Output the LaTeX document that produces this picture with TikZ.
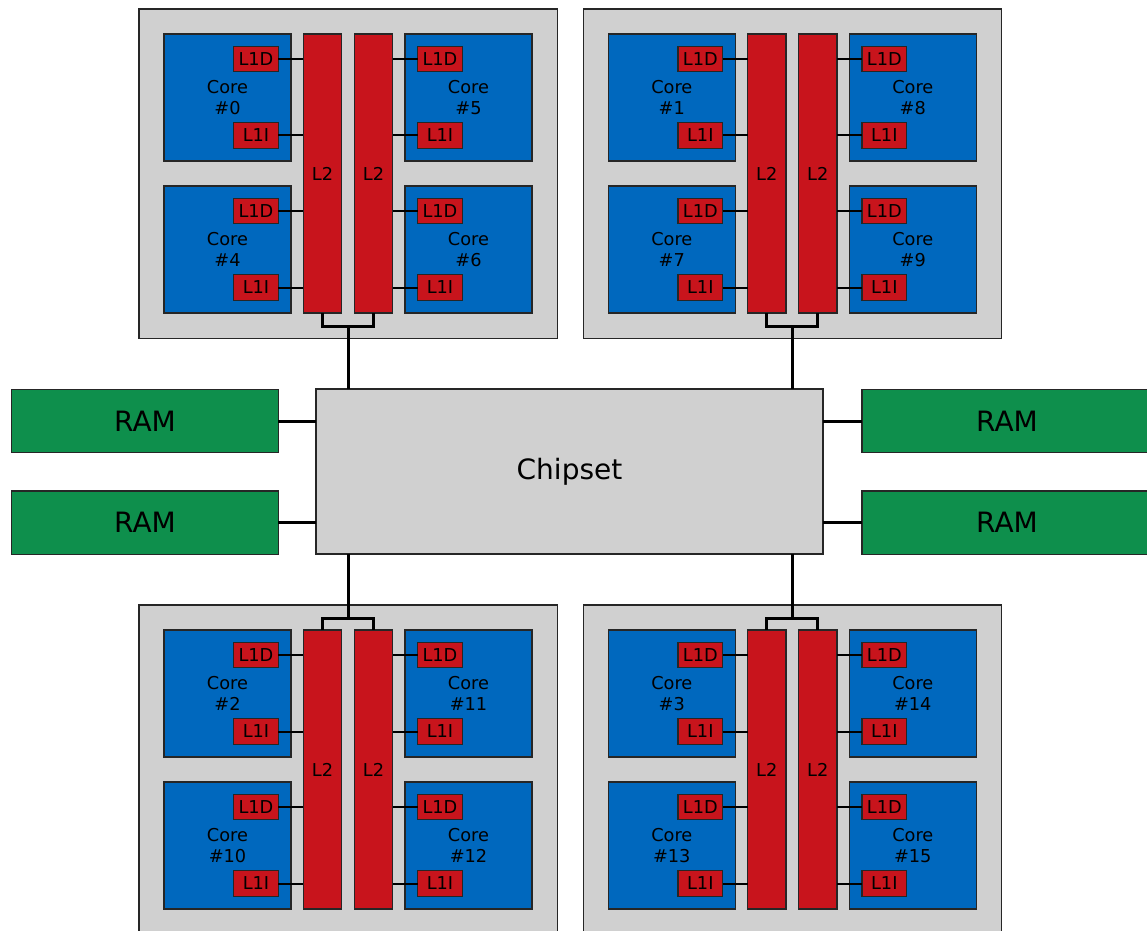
\documentclass[tikz,border=0pt]{standalone}
\usepackage{fontspec}
\setmainfont{DejaVu Sans}
\definecolor{pkggray}{RGB}{208,208,208}
\definecolor{coreblue}{RGB}{0,104,190}
\definecolor{cachered}{RGB}{200,20,28}
\definecolor{ramgreen}{RGB}{14,143,76}
\tikzset{
  box/.style={draw=black!85, line width=0.8pt, inner sep=0pt, outer sep=0pt},
  pkgbox/.style={box, fill=pkggray, minimum width=313.875pt, minimum height=247.125pt},
  corebox/.style={box, fill=coreblue, minimum width=95.25pt, minimum height=95.25pt, align=center,
    font=\fontsize{13.3}{16.3}\selectfont},
  l1box/.style={box, fill=cachered, minimum width=33.45pt, minimum height=18.975pt,
    font=\fontsize{13.3}{15}\selectfont},
  l2box/.style={box, fill=cachered, minimum width=28.8pt, minimum height=209.25pt,
    font=\fontsize{13.3}{15}\selectfont},
  rambox/.style={box, fill=ramgreen, minimum height=47.55pt, font=\fontsize{21}{25}\selectfont},
  chipbox/.style={box, fill=pkggray, minimum width=380.25pt, minimum height=123.75pt,
    font=\fontsize{21}{25}\selectfont},
  link/.style={line width=1.5pt},
  bus/.style={line width=2.25pt}
}
\newcommand\cpupkg[7]{%
  \begin{scope}[shift={(#2,#3)}]
    \node[pkgbox] (#1) at (348.25,173.75) {};
    \node[corebox] (#1-c1) at (227.5,97.5) {Core\\\##4};
    \node[corebox] (#1-c2) at (468.5,97.5) {Core\\\##5};
    \node[corebox] (#1-c3) at (227.5,249.5) {Core\\\##6};
    \node[corebox] (#1-c4) at (468.5,249.5) {Core\\\##7};
    \node[l2box] (#1-l2a) at (322.5,173.5) {L2};
    \node[l2box] (#1-l2b) at (373.5,173.5) {L2};
    \node[l1box] (#1-c1d) at (256,59.3) {L1D};
    \node[l1box] (#1-c1i) at (256,135.5) {L1I};
    \node[l1box] (#1-c3d) at (256,211.3) {L1D};
    \node[l1box] (#1-c3i) at (256,287.5) {L1I};
    \node[l1box] (#1-c2d) at (440,59.3) {L1D};
    \node[l1box] (#1-c2i) at (440,135.5) {L1I};
    \node[l1box] (#1-c4d) at (440,211.3) {L1D};
    \node[l1box] (#1-c4i) at (440,287.5) {L1I};
    \foreach \c in {c1d,c1i,c3d,c3i}
      \draw[link] (#1-\c.east) -- (#1-\c.east -| #1-l2a.west);
    \foreach \c in {c2d,c2i,c4d,c4i}
      \draw[link] (#1-\c.west) -- (#1-\c.west -| #1-l2b.east);
    \coordinate (#1-tapdown) at (348,326);
    \coordinate (#1-tapup) at (348,22);
  \end{scope}}
\begin{document}
\begin{tikzpicture}[x=0.75pt,y=-0.75pt]
\useasboundingbox (0,0) rectangle (1147,931);
\clip (0,0) rectangle (1147,931);

\cpupkg{pa}{0}{0}{0}{5}{4}{6}
\cpupkg{pb}{444.3}{0}{1}{8}{7}{9}
\cpupkg{pc}{0}{596}{2}{11}{10}{12}
\cpupkg{pd}{444.3}{596}{3}{14}{13}{15}

\node[chipbox] (chip) at (569.5,471.5) {Chipset};
\node[rambox, minimum width=199.95pt] (ram1) at (145,421) {RAM};
\node[rambox, minimum width=199.95pt] (ram2) at (145,522.7) {RAM};
\node[rambox, minimum width=217.5pt] (ram3) at (1007,421) {RAM};
\node[rambox, minimum width=217.5pt] (ram4) at (1007,522.7) {RAM};

\draw[bus] (ram1.east) -- (ram1.east -| chip.west);
\draw[bus] (ram2.east) -- (ram2.east -| chip.west);
\draw[bus] (ram3.west) -- (ram3.west -| chip.east);
\draw[bus] (ram4.west) -- (ram4.west -| chip.east);

\foreach \p in {pa,pb} {
  \draw[bus] (\p-l2a.south) |- (\p-tapdown) -| (\p-l2b.south);
  \draw[bus] (\p-tapdown) -- (\p-tapdown |- chip.north);
}
\foreach \p in {pc,pd} {
  \draw[bus] (\p-l2a.north) |- (\p-tapup) -| (\p-l2b.north);
  \draw[bus] (\p-tapup) -- (\p-tapup |- chip.south);
}
\end{tikzpicture}
\end{document}
